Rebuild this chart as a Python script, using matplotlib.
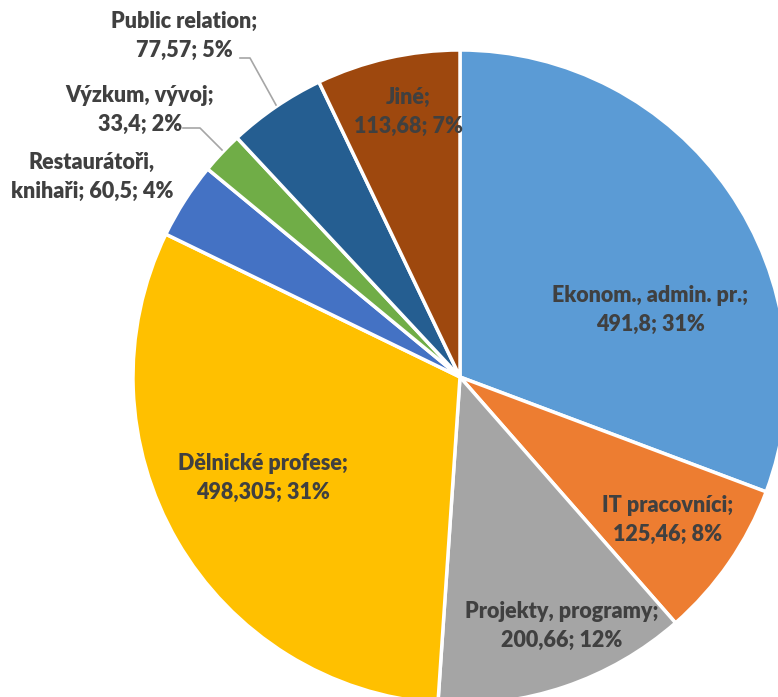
import matplotlib.pyplot as plt

labels = ['Ekonom., admin. pr.', 'IT pracovníci', 'Projekty, programy', 'Dělnické profese',
          'Restaurátoři, knihaři', 'Výzkum, vývoj', 'Public relation', 'Jiné']
values = [491.8, 125.46, 200.66, 498.305, 60.5, 33.4, 77.57, 113.68]
value_text = ['491,8', '125,46', '200,66', '498,305', '60,5', '33,4', '77,57', '113,68']
pct_text = ['31%', '8%', '12%', '31%', '4%', '2%', '5%', '7%']
colors = ['#5B9BD5', '#ED7D31', '#A5A5A5', '#FFC000', '#4472C4', '#70AD47', '#255E91', '#9E480E']

W, H = 778, 697
cx, cy, R = 460, 377, 327

fig = plt.figure(figsize=(W / 100, H / 100), dpi=100)
ax = fig.add_axes([(cx - R) / W, (H - cy - R) / H, 2 * R / W, 2 * R / H])
ax.pie(values, colors=colors, startangle=90, counterclock=False, radius=1,
       wedgeprops=dict(edgecolor='white', linewidth=2.5))
ax.set_xlim(-1, 1)
ax.set_ylim(-1, 1)
ax.axis('off')

def to_data(px, py):
    return (px - cx) / R, (cy - py) / R

# label centres in pixels
label_pos = [(650, 310), (668, 520), (562, 626), (263, 478), (92, 177), (140, 110), (184, 36), (408, 112)]
lines = [f'{labels[i]};\n{value_text[i]}; {pct_text[i]}' for i in range(len(values))]
lines[4] = f'Restaurátoři,\nknihaři; {value_text[4]}; {pct_text[4]}'
for (px, py), t in zip(label_pos, lines):
    x, y = to_data(px, py)
    ax.text(x, y, t, ha='center', va='center', fontsize=15.5, fontweight='heavy',
            family=['Lato', 'DejaVu Sans'], color='#404040', linespacing=1.45, clip_on=False)

# leader lines
leaders = [[(183, 128), (200, 128), (222, 150)], [(240, 58), (250, 58), (276, 105)]]
for pts in leaders:
    xs, ys = zip(*[to_data(*p) for p in pts])
    ax.plot(xs, ys, color='#A6A6A6', linewidth=1.2, clip_on=False)

fig.savefig('out.png', dpi=100)
